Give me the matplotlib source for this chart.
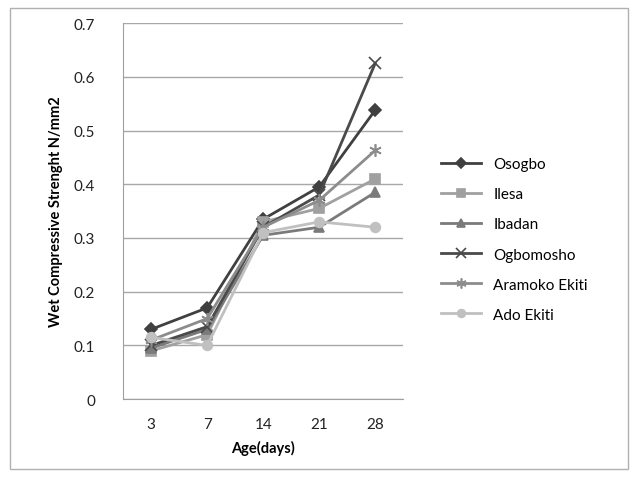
import matplotlib.pyplot as plt
from matplotlib.patches import Rectangle

ages = ["3", "7", "14", "21", "28"]
osogbo = [0.13, 0.17, 0.335, 0.395, 0.538]
ilesa = [0.09, 0.12, 0.33, 0.355, 0.41]
ibadan = [0.095, 0.13, 0.305, 0.32, 0.385]
ogbomosho = [0.10, 0.135, 0.32, 0.38, 0.625]
aramoko = [0.11, 0.15, 0.32, 0.37, 0.463]
ado = [0.115, 0.10, 0.31, 0.33, 0.32]

series = [
    ("Osogbo", osogbo, "#404040", "D", 6),
    ("Ilesa", ilesa, "#a0a0a0", "s", 7),
    ("Ibadan", ibadan, "#7a7a7a", "^", 7),
    ("Ogbomosho", ogbomosho, "#4a4a4a", "x", 9),
    ("Aramoko Ekiti", aramoko, "#8c8c8c", (6, 2, 0), 9),
    ("Ado Ekiti", ado, "#c0c0c0", "o", 7),
]

plt.rcParams["font.family"] = ["Lato", "DejaVu Sans"]

fig = plt.figure(figsize=(6.38, 4.81), dpi=100)
ax = fig.add_axes([0.193, 0.168, 0.439, 0.782])

fig.patches.append(Rectangle((0.015, 0.022), 0.97, 0.96, transform=fig.transFigure,
                             fill=False, edgecolor="#b0b0b0", linewidth=1))

x = list(range(len(ages)))
for name, vals, color, marker, ms in series:
    ax.plot(x, vals, color=color, marker=marker, markersize=ms, linewidth=2,
            markeredgewidth=1.2, label=name)

ax.set_xlim(-0.5, len(ages) - 0.5)
ax.set_ylim(0, 0.7)
ax.set_xticks(x)
ax.set_xticklabels(ages)
ax.set_yticks([0, 0.1, 0.2, 0.3, 0.4, 0.5, 0.6, 0.7])
ax.set_yticklabels(["0", "0.1", "0.2", "0.3", "0.4", "0.5", "0.6", "0.7"])
ax.tick_params(axis="x", length=0, labelsize=11, colors="#222", pad=13)
ax.tick_params(axis="y", length=0, labelsize=11, colors="#222", pad=20)
ax.grid(True, axis="y", color="#a8a8a8", linewidth=1)
ax.set_axisbelow(True)
for s in ["top", "right"]:
    ax.spines[s].set_visible(False)
ax.spines["left"].set_color("#a0a0a0")
ax.spines["bottom"].set_color("#a0a0a0")

ax.set_xlabel("Age(days)", fontsize=10.5, fontweight="bold", labelpad=6)
ax.set_ylabel("Wet Compressive Strenght N/mm2", fontsize=10.5, fontweight="bold", labelpad=8)

fig.legend(loc="center left", bbox_to_anchor=(0.67, 0.5), frameon=False,
           fontsize=11, handlelength=2.6, labelspacing=1.05, markerscale=0.8)

fig.savefig("out.png", dpi=100, facecolor="white")
